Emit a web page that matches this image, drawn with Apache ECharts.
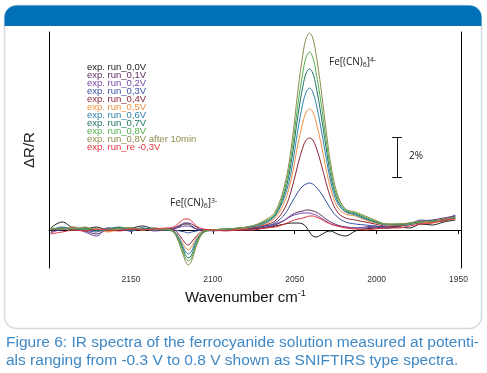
<!DOCTYPE html>
<html><head><meta charset="utf-8">
<script src="https://cdn.jsdelivr.net/npm/echarts@6/dist/echarts.min.js"></script>
<style>html,body{margin:0;padding:0;background:#fff}#c{width:487px;height:373px}</style>
</head><body><div id="c"></div>
<script>
// Wavenumber grid (cm-1)
const wavenumbers = [2199,2192,2185,2178,2171,2164,2157,2150,2143,2136,2129,
  2124,2120,2117,2115,2113,2110,2106,
  2100,2092,2084,
  2076,2068,2062,2056,2052,2048,2045,2043,2041,2039,2037,2034,2031,2028,2024,2019,2013,2007,2001,1994,
  1987,1980,1973,1966,1959,1952];
const xTicks = [2150,2100,2050,2000,1950];
const seriesNames = ['exp. run_0,0V','exp. run_0,1V','exp. run_0,2V','exp. run_0,3V','exp. run_0,4V','exp. run_0,5V','exp. run_0,6V','exp. run_0,7V','exp. run_0,8V','exp. run_0,8V after 10min','exp. run_re -0,3V'];
const seriesColors = ['#1c1c1c','#5e2a62','#7446a6','#3552a2','#8c2638','#f0913f','#2f82aa','#1f7262','#52b04e','#8e8c4e','#e5343f'];
// ΔR/R in %
const run00 = [0.1,0.4,0.1,0.05,0.15,0.0,0.1,0.1,0.2,0.05,0.0, 0.05,0.2,0.3,0.3,0.2,0.05,0.0, 0.0,0.0,0.05,
  0.05,0.1,0.2,0.3,0.35,0.35,0.3,0.15,-0.1,-0.3,-0.35,-0.25,-0.1,-0.05,-0.2,-0.3,-0.05,0.05,0.1,0.1, 0.15,0.1,0.3,0.25,0.4,0.5];
const run01 = [-0.1,0.1,0.0,-0.05,-0.2,0.05,0.1,-0.05,0.05,0.0,0.05, 0.1,0.25,0.35,0.35,0.3,0.15,0.0, 0.0,0.0,0.05,
  0.05,0.15,0.25,0.5,0.75,0.9,0.95,1.0,1.0,0.95,0.9,0.75,0.55,0.4,0.25,0.15,0.1,0.1,0.15,0.1, 0.2,0.3,0.45,0.5,0.6,0.7];
const run02 = [-0.15,0.05,0.1,-0.1,-0.3,0.1,0.0,0.05,0.1,-0.05,0.0, 0.05,0.15,0.2,0.2,0.15,0.05,0.0, -0.05,0.0,0.0,
  0.1,0.2,0.3,0.5,0.7,0.8,0.85,0.85,0.85,0.8,0.75,0.6,0.45,0.3,0.2,0.15,0.1,0.15,0.2,0.15, 0.25,0.3,0.5,0.45,0.55,0.75];
const run03 = [0.05,0.0,0.15,0.0,-0.1,0.1,0.05,-0.05,0.1,0.0,0.05, 0.0,-0.05,-0.1,-0.15,-0.1,-0.05,0.0, 0.0,0.0,0.05,
  0.1,0.2,0.35,0.8,1.35,1.9,2.2,2.3,2.35,2.3,2.15,1.85,1.45,1.05,0.65,0.4,0.3,0.25,0.2,0.15, 0.2,0.25,0.4,0.45,0.5,0.7];
const run04 = [0.0,0.1,0.05,0.1,0.0,-0.05,0.1,0.05,0.0,0.05,0.0, 0.0,-0.3,-0.65,-0.75,-0.6,-0.3,-0.05, 0.0,0.0,0.05,
  0.1,0.25,0.45,1.1,2.0,3.3,4.15,4.5,4.6,4.5,4.15,3.35,2.4,1.6,0.9,0.6,0.5,0.4,0.3,0.2, 0.2,0.3,0.35,0.4,0.45,0.6];
const run05 = [0.1,0.05,0.15,0.0,0.05,-0.1,0.05,0.1,0.0,0.1,0.05, -0.05,-0.45,-0.85,-1.0,-0.85,-0.4,-0.05, 0.0,0.05,0.05,
  0.15,0.3,0.6,1.45,2.6,4.3,5.4,5.9,6.05,5.9,5.4,4.35,3.1,2.05,1.15,0.8,0.7,0.5,0.35,0.25, 0.25,0.3,0.4,0.35,0.5,0.55];
const run06 = [0.0,0.15,0.05,0.05,-0.05,0.0,0.1,0.0,0.05,0.1,0.0, -0.05,-0.5,-1.05,-1.2,-1.05,-0.5,-0.1, 0.0,0.0,0.1,
  0.15,0.35,0.7,1.7,3.0,5.05,6.35,6.9,7.1,6.9,6.35,5.1,3.7,2.4,1.35,0.9,0.75,0.55,0.4,0.25, 0.3,0.3,0.45,0.4,0.55,0.6];
const run07 = [0.05,0.1,0.0,0.1,0.0,0.05,0.15,0.0,0.05,0.05,0.0, -0.1,-0.6,-1.2,-1.4,-1.25,-0.6,-0.1, 0.0,0.05,0.1,
  0.2,0.4,0.75,1.9,3.45,5.75,7.2,7.85,8.05,7.85,7.2,5.8,4.2,2.7,1.5,0.95,0.8,0.6,0.4,0.3, 0.25,0.35,0.4,0.45,0.5,0.65];
const run08 = [0.1,0.05,0.1,0.05,0.05,0.0,0.1,0.1,0.0,0.05,0.05, -0.1,-0.7,-1.35,-1.55,-1.4,-0.7,-0.15, 0.0,0.05,0.1,
  0.2,0.45,0.8,2.1,3.8,6.3,7.9,8.65,8.9,8.65,7.9,6.4,4.6,3.0,1.65,1.0,0.85,0.65,0.45,0.3, 0.3,0.3,0.4,0.45,0.5,0.6];
const run08after = [0.0,0.1,0.05,0.15,0.0,0.05,0.05,0.1,0.05,0.0,0.05, -0.1,-0.8,-1.5,-1.75,-1.55,-0.8,-0.15, 0.0,0.05,0.1,
  0.2,0.5,0.9,2.3,4.2,7.0,8.8,9.6,9.85,9.6,8.8,7.1,5.1,3.3,1.8,1.05,0.9,0.7,0.5,0.3, 0.3,0.35,0.45,0.4,0.55,0.65];
const runRe = [-0.2,-0.1,0.0,-0.05,0.05,0.0,-0.05,0.05,0.0,0.05,0.1, 0.15,0.4,0.55,0.55,0.45,0.2,0.05, 0.0,-0.05,0.0,
  0.0,0.1,0.15,0.3,0.45,0.55,0.6,0.65,0.7,0.7,0.65,0.55,0.4,0.3,0.2,0.1,0.05,0.0,0.05,0.1, 0.1,0.2,0.3,0.35,0.5,0.55];
const allRuns = [run00,run01,run02,run03,run04,run05,run06,run07,run08,run08after,runRe];
// 2 % scale bar: wavenumber position and ΔR/R span
const scaleBarX = 1987.5;
const scaleBarY = [2.65, 4.65];

const chart = echarts.init(document.getElementById('c'), null, {renderer:'canvas'});
const FONT = 'Liberation Sans, Arial, sans-serif';
const series = allRuns.map((vals, k) => ({
  name: seriesNames[k], type: 'line', smooth: 0.35, showSymbol: false, silent: true,
  lineStyle: {width: 1, color: seriesColors[k]}, itemStyle:{color: seriesColors[k]},
  data: wavenumbers.map((w, i) => [w, vals[i]])
}));
series.push({type:'line', silent:true, showSymbol:false, data: [], markLine:{
  silent:true, symbol:'none', label:{show:false}, lineStyle:{color:'#111', width:1, type:'solid'},
  data:[
    [{coord:[scaleBarX, scaleBarY[0]]},{coord:[scaleBarX, scaleBarY[1]]}],
    [{coord:[scaleBarX+3, scaleBarY[1]]},{coord:[scaleBarX-3, scaleBarY[1]]}],
    [{coord:[scaleBarX+3, scaleBarY[0]]},{coord:[scaleBarX-3, scaleBarY[0]]}]
  ]}});

const legendTexts = seriesNames.map((n, i) => ({
  type:'text', left: 87, top: 62 + i*8, z: 10,
  style:{text: n, fill: seriesColors[i], font: '9.5px ' + FONT}
}));

chart.setOption({
  animation: false,
  backgroundColor: '#fff',
  grid: {left: 49, right: 26, top: 32, bottom: 105},
  xAxis: {type:'value', inverse:true, min:1948.5, max:2200,
    axisLine:{show:true, lineStyle:{color:'#000', width:1}},
    axisTick:{show:true, length:4, inside:false, customValues: xTicks, lineStyle:{color:'#000'}},
    axisLabel:{show:true, customValues: xTicks, fontSize:8.5, color:'#333', margin:7, fontFamily: FONT, formatter: v => String(v)},
    splitLine:{show:false}},
  yAxis: [
    {type:'value', min:-1.9, max:9.9, axisLine:{show:true, lineStyle:{color:'#000'}}, axisTick:{show:false}, axisLabel:{show:false}, splitLine:{show:false}},
    {type:'value', min:-1.9, max:9.9, position:'right', axisLine:{show:true, lineStyle:{color:'#000'}}, axisTick:{show:false}, axisLabel:{show:false}, splitLine:{show:false}}
  ],
  series: series,
  graphic: [
    {type:'rect', z:-20, shape:{x:4.5, y:5.5, width:477, height:323, r:12}, style:{fill:'#fff', stroke:'#d2dce1', lineWidth:1.5}},
    {type:'rect', z:-19, shape:{x:4.5, y:5.5, width:477, height:20.5, r:[12,12,0,0]}, style:{fill:'#0070b9'}},
    {type:'text', left: 185, top: 289, z:10, style:{
      rich:{a:{fontSize:15, fontFamily:FONT, fill:'#111'}, s:{fontSize:9, fontFamily:FONT, fill:'#111', padding:[0,0,9,0]}},
      text:'{a|Wavenumber cm}{s|-1}'}},
    {type:'text', x: 30, y: 150, rotation: Math.PI/2, z:10, style:{text:'ΔR/R', font:'15px '+FONT, fill:'#222', align:'center', verticalAlign:'middle'}},
    {type:'text', left: 329, top: 56, z:10, style:{
      rich:{t:{fontSize:10, fontFamily:'Open Sans, sans-serif', fill:'#222'}, d:{fontSize:7, fontFamily:'Open Sans, sans-serif', fill:'#222', padding:[5,0,0,0]}, u:{fontSize:7, fontFamily:'Open Sans, sans-serif', fill:'#222', padding:[0,0,6,0]}},
      text:'{t|Fe[(CN)}{d|6}{t|]}{u|4-}'}},
    {type:'text', left: 170, top: 197, z:10, style:{
      rich:{t:{fontSize:10, fontFamily:'Open Sans, sans-serif', fill:'#222'}, d:{fontSize:7, fontFamily:'Open Sans, sans-serif', fill:'#222', padding:[5,0,0,0]}, u:{fontSize:7, fontFamily:'Open Sans, sans-serif', fill:'#222', padding:[0,0,6,0]}},
      text:'{t|Fe[(CN)}{d|6}{t|]}{u|3-}'}},
    {type:'text', left: 409, top: 151, z:10, style:{text:'2%', font:'10px Open Sans, sans-serif', fill:'#222'}},
    {type:'text', left: 6, top: 335, z:10, style:{text:'Figure 6: IR spectra of the ferrocyanide solution measured at potenti-', font:'15.5px '+FONT, fill:'#3f88c6'}},
    {type:'text', left: 6, top: 353, z:10, style:{text:'als ranging from -0.3 V to 0.8 V shown as SNIFTIRS type spectra.', font:'15.5px '+FONT, fill:'#3f88c6'}}
  ].concat(legendTexts)
});
</script></body></html>
